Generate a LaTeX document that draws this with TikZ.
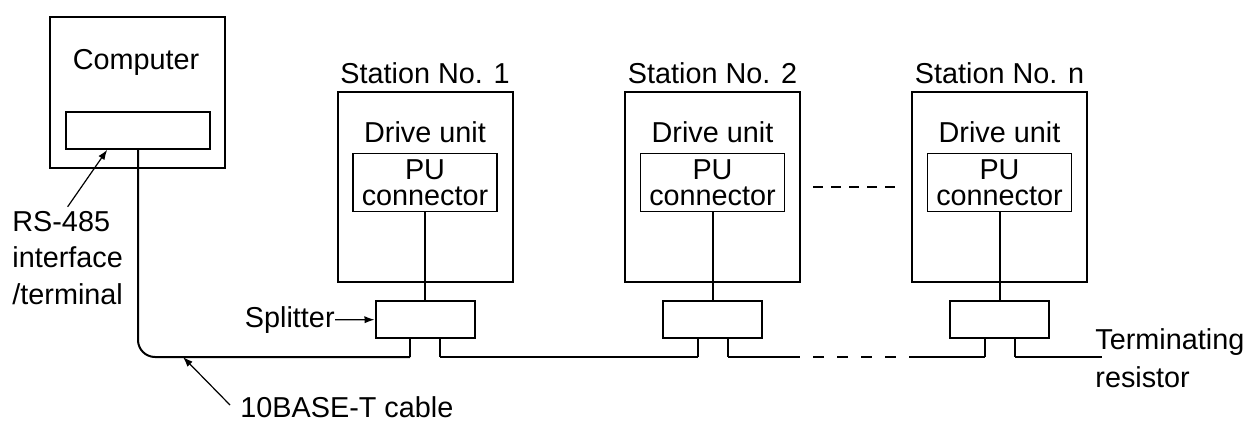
\documentclass[tikz,border=0pt]{standalone}
\usepackage{fontspec}
\setmainfont{Liberation Sans}
\usetikzlibrary{arrows.meta}
\begin{document}
\begin{tikzpicture}[x=0.5pt,y=-0.5pt]
    \tikzset{box/.style = {draw=black,line width=1pt,inner sep=0pt}, pubox/.style = {draw=black,line width=0.6pt,inner sep=0pt}, wire/.style = {line width=1pt}, txt/.style = {inner sep=0pt,font=\fontsize{14.4}{18.3}\selectfont}, pointer/.style = {line width=0.6pt,-{Latex[length=5pt,width=3.6pt]}}}
    \useasboundingbox (0,0) rectangle (1251,422);
    % computer side
    \node[box,minimum width=87.5pt,minimum height=75.5pt] (pc) at (137.5,92.5) {};
    \node[txt] (pctext) at (136,62) {Computer};
    \node[box,line width=0.8pt,minimum width=72pt,minimum height=18.5pt] (rs485) at (138,130.5) {};
    % stations
    \foreach \n/\cx in {1/425,2/712.5,n/999.5} {
        \node[box,minimum width=87.5pt,minimum height=95pt] (st\n) at (\cx,187) {};
        \node[txt] (title\n) at (\cx,73) {Station No. \n};
        \node[txt] (drive\n) at (\cx,132) {Drive unit};
        \node[pubox,minimum width=72pt,minimum height=29pt,align=center,font=\fontsize{14.4}{13.2}\selectfont] (pu\n) at (\cx,182.5) {PU\\connector};
        \node[box,minimum width=49.5pt,minimum height=18.5pt] (sp\n) at (\cx,319.5) {};
        \coordinate (l\n) at (\cx-15,357);
        \coordinate (r\n) at (\cx+15,357);
        \draw[wire] (pu\n) -- (sp\n);
        \draw[wire] (sp\n.south -| l\n) -- (l\n);
        \draw[wire] (sp\n.south -| r\n) -- (r\n);
    }
    \draw[wire,dash pattern=on 5pt off 4pt] ([xshift=6pt]st2.east) -- ([xshift=-5pt]stn.west);
    % bus cable
    \coordinate (gapL) at (800,357);
    \coordinate (gapR) at (913,357);
    \coordinate (term) at (1102,357);
    \coordinate (bustap) at (183,357);
    \draw[wire,rounded corners=8.5pt] (rs485.south) |- (l1);
    \draw[wire] (r1) -- (l2);
    \draw[wire] (r2) -- (gapL);
    \draw[wire,dash pattern=on 5.5pt off 6.5pt,dash phase=5.5pt] (gapL) -- (gapR);
    \draw[wire] (gapR) -- (ln);
    \draw[wire] (rn) -- (term);
    % labels
    \node[txt,align=left,anchor=west] (rslabel) at (12,258) {RS-485\\interface\\/terminal};
    \draw[pointer] ([yshift=2pt]rslabel.north) -- ([xshift=21pt]rs485.south west);
    \node[txt,anchor=east] (spltext) at (335,320) {Splitter};
    \draw[pointer] (spltext) -- (sp1);
    \node[txt,anchor=west] (cable) at (240,407) {10BASE-T cable};
    \draw[pointer] ([xshift=-5pt,yshift=1pt]cable.west) -- (bustap);
    \node[txt,align=left,anchor=north west,font=\fontsize{14.4}{19}\selectfont] (termtext) at (1095,328) {Terminating\\resistor};
\end{tikzpicture}
\end{document}
